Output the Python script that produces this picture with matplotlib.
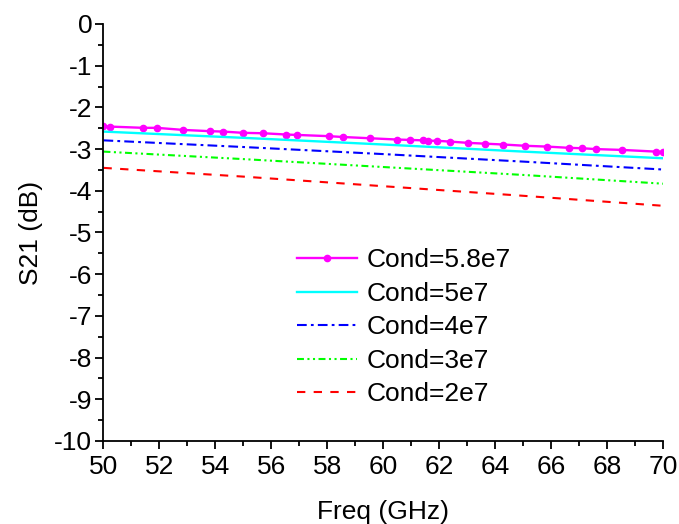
import matplotlib
matplotlib.use("Agg")
import matplotlib.pyplot as plt
from matplotlib.ticker import MultipleLocator

plt.rcParams['font.family'] = ['Liberation Sans', 'DejaVu Sans']
plt.rcParams['lines.scale_dashes'] = False
plt.rcParams['axes.unicode_minus'] = False

# Cond = 5.8e7 (adaptive sweep points)
freq_58 = [50.0, 50.23, 51.42, 51.9, 52.85, 53.8, 54.28, 54.99, 55.71, 56.51, 56.9,
           58.06, 58.56, 59.52, 60.47, 60.95, 61.42, 61.58, 61.9, 62.38, 63.01,
           63.64, 64.28, 65.05, 65.85, 66.64, 67.11, 67.59, 68.54, 69.73, 70.0]
s21_58 = [-2.45, -2.46, -2.49, -2.49, -2.54, -2.57, -2.58, -2.61, -2.62, -2.65, -2.66,
          -2.69, -2.71, -2.74, -2.77, -2.78, -2.79, -2.80, -2.80, -2.82, -2.85,
          -2.87, -2.89, -2.92, -2.94, -2.97, -2.98, -3.00, -3.02, -3.06, -3.07]

freq_other = [50, 55, 60, 65, 70]
s21_5 = [-2.58, -2.73, -2.89, -3.06, -3.22]
s21_4 = [-2.79, -2.95, -3.12, -3.30, -3.49]
s21_3 = [-3.06, -3.24, -3.43, -3.62, -3.83]
s21_2 = [-3.45, -3.66, -3.89, -4.12, -4.36]

labels = ['Cond=5.8e7', 'Cond=5e7', 'Cond=4e7', 'Cond=3e7', 'Cond=2e7']

fig = plt.figure(figsize=(6.79, 5.24), dpi=100)
ax = fig.add_axes([0.1524, 0.1584, 0.8245, 0.7958])

ax.plot(freq_58, s21_58, color='#ff00ff', lw=1.7, marker='o', markersize=4.5, label=labels[0])
ax.plot(freq_other, s21_5, color='#00ffff', lw=1.7, label=labels[1])
ax.plot(freq_other, s21_4, color='#0000ff', lw=1.5, dashes=(7, 3, 2, 3), label=labels[2])
ax.plot(freq_other, s21_3, color='#00ff00', lw=1.5, dashes=(5, 2.5, 1.5, 2.5, 1.5, 2.5), label=labels[3])
ax.plot(freq_other, s21_2, color='#ff0000', lw=1.5, dashes=(6, 6), label=labels[4])

ax.set_xlim(50, 70)
ax.set_ylim(-10, 0)
ax.xaxis.set_major_locator(MultipleLocator(2))
ax.xaxis.set_minor_locator(MultipleLocator(1))
ax.yaxis.set_major_locator(MultipleLocator(1))
ax.yaxis.set_minor_locator(MultipleLocator(0.5))
ax.spines['top'].set_visible(False)
ax.spines['right'].set_visible(False)
for s in ['left', 'bottom']:
    ax.spines[s].set_linewidth(1.3)
ax.tick_params(which='major', direction='out', length=6, width=1.3, labelsize=19)
ax.tick_params(axis='x', which='major', pad=4)
ax.tick_params(axis='y', which='major', pad=2)
ax.tick_params(which='minor', direction='out', length=3.5, width=1.3)

ax.set_xlabel('Freq (GHz)', fontsize=19, labelpad=15)
ax.set_ylabel('S21 (dB)', fontsize=19, labelpad=8)

leg = ax.legend(loc='upper left', bbox_to_anchor=(0.345, 0.462), frameon=False, fontsize=19,
                handlelength=2.3, handletextpad=0.35, labelspacing=0.36, borderpad=0,
                borderaxespad=0, markerscale=1.0)
leg.legend_handles[0].set_markevery([1])

fig.savefig('out.png', dpi=100)
